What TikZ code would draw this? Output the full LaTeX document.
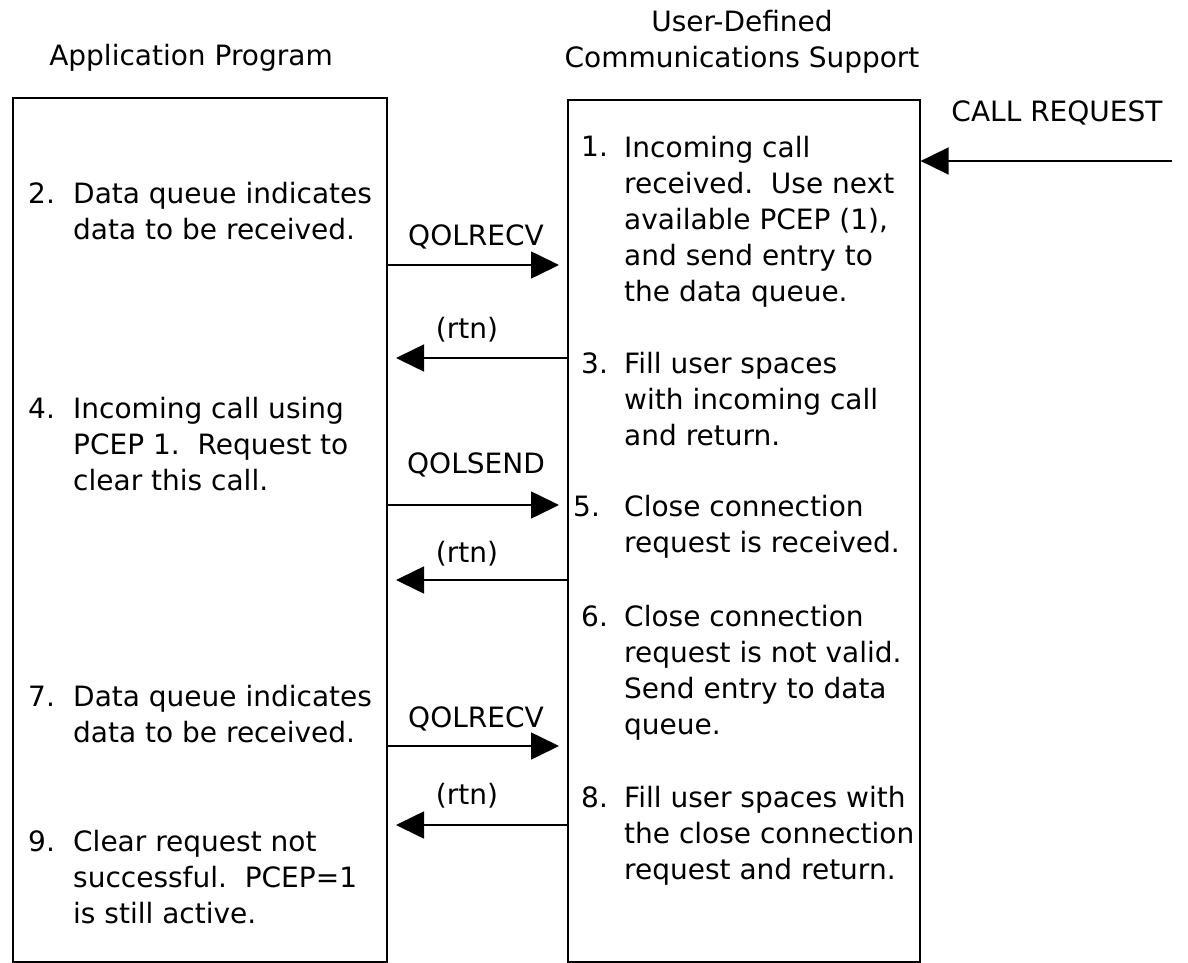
\documentclass[tikz,border=0pt]{standalone}
\usepackage{fontspec}
\setmainfont{DejaVu Sans}
\usetikzlibrary{arrows.meta}

\begin{document}
\begin{tikzpicture}[
  x=1pt, y=-1pt,
  font=\fontsize{28pt}{36pt}\selectfont,
  panel/.style={draw, line width=1.6pt, anchor=north west, inner sep=0pt},
  num/.style={anchor=base west, inner sep=0pt},
  item/.style={anchor=base west, align=left, inner sep=0pt},
  lbl/.style={inner sep=0pt},
  msg/.style={-{Triangle[length=28pt, width=27pt]}, line width=1.6pt}
]
\useasboundingbox (0,0) rectangle (1188,963);

% the two columns
\node[panel, minimum width=374pt, minimum height=864pt] (app) at (12,97) {};
\node[panel, minimum width=352pt, minimum height=862pt] (ucs) at (567,99) {};
\node[lbl] (apphead) at (191,58) {Application Program};
\node[lbl, align=center] (ucshead) at (742,42) {User-Defined\\Communications Support};

% application program side (items sit on their last line)
\node[num] (n2) at (28,203) {2.};
\node[item] (t2) at (73,239) {Data queue indicates\\data to be received.};
\node[num] (n4) at (28,418) {4.};
\node[item] (t4) at (73,490) {Incoming call using\\PCEP 1.\ \ Request to\\clear this call.};
\node[num] (n7) at (28,706) {7.};
\node[item] (t7) at (73,742) {Data queue indicates\\data to be received.};
\node[num] (n9) at (28,851) {9.};
\node[item] (t9) at (73,923) {Clear request not\\successful.\ \ PCEP=1\\is still active.};

% communications support side
\node[num] (n1) at (581,157) {1.};
\node[item] (t1) at (624,301) {Incoming call\\received.\ \ Use next\\available PCEP (1),\\and send entry to\\the data queue.};
\node[num] (n3) at (581,373) {3.};
\node[item] (t3) at (624,445) {Fill user spaces\\with incoming call\\and return.};
\node[num] (n5) at (573,516) {5.};
\node[item] (t5) at (624,552) {Close connection\\request is received.};
\node[num] (n6) at (581,626) {6.};
\node[item] (t6) at (624,734) {Close connection\\request is not valid.\\Send entry to data\\queue.};
\node[num] (n8) at (581,807) {8.};
\node[item] (t8) at (624,879) {Fill user spaces with\\the close connection\\request and return.};

% incoming call
\coordinate (callsrc) at (1172,161);
\draw[msg] (callsrc) -- (callsrc -| ucs.east);
\node[lbl] (calllbl) at (1057,113) {CALL REQUEST};

% calls and returns
\coordinate (recv1) at (559,265);
\draw[msg] (recv1 -| app.east) -- (recv1);
\node[lbl] (recv1lbl) at (476,237) {QOLRECV};

\coordinate (rtn1) at (396,358);
\draw[msg] (rtn1 -| ucs.west) -- (rtn1);
\node[lbl] (rtn1lbl) at (467,330) {(rtn)};

\coordinate (send) at (559,505);
\draw[msg] (send -| app.east) -- (send);
\node[lbl] (sendlbl) at (476,465) {QOLSEND};

\coordinate (rtn2) at (396,580);
\draw[msg] (rtn2 -| ucs.west) -- (rtn2);
\node[lbl] (rtn2lbl) at (467,554) {(rtn)};

\coordinate (recv2) at (559,746);
\draw[msg] (recv2 -| app.east) -- (recv2);
\node[lbl] (recv2lbl) at (476,719) {QOLRECV};

\coordinate (rtn3) at (396,825);
\draw[msg] (rtn3 -| ucs.west) -- (rtn3);
\node[lbl] (rtn3lbl) at (467,796) {(rtn)};
\end{tikzpicture}
\end{document}
